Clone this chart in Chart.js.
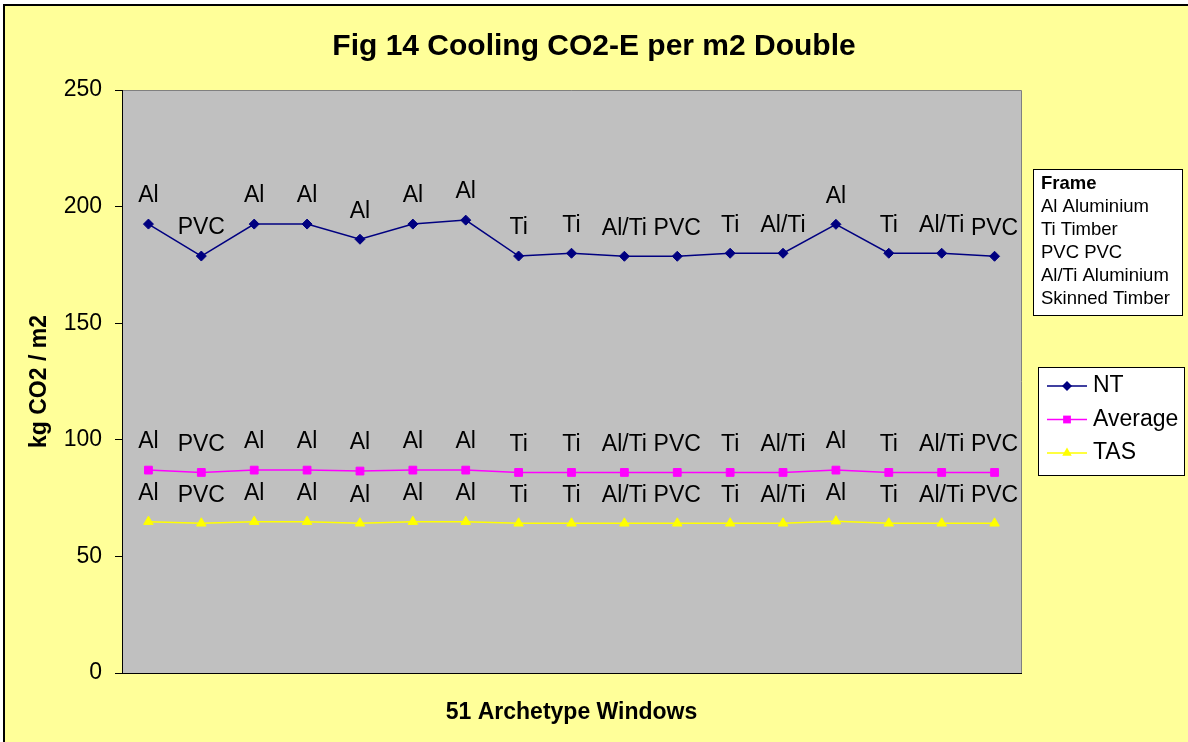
<!DOCTYPE html>
<html>
<head>
<meta charset="utf-8">
<script src="https://cdn.jsdelivr.net/npm/chart.js@4/dist/chart.umd.min.js"></script>
<style>
  html, body { margin: 0; padding: 0; background: #fff; }
  #wrap { width: 1188px; height: 742px; position: relative; }
</style>
</head>
<body>
<div id="wrap"><canvas id="c"></canvas></div>
<script>
// frame type per archetype window (label above every point)
const frames = ['Al', 'PVC', 'Al', 'Al', 'Al', 'Al', 'Al', 'Ti', 'Ti', 'Al/Ti', 'PVC', 'Ti', 'Al/Ti', 'Al', 'Ti', 'Al/Ti', 'PVC'];
const ntVals = [192.5, 178.8, 192.5, 192.5, 186, 192.5, 194.2, 178.8, 180, 178.7, 178.7, 180, 180, 192.4, 180, 180, 178.7];
const avgVals = [87, 86, 87, 87, 86.6, 87, 87, 86, 86, 86, 86, 86, 86, 87, 86, 86, 86];
const tasVals = [64.9, 64.2, 64.9, 64.9, 64.2, 64.9, 64.9, 64.2, 64.2, 64.2, 64.2, 64.2, 64.2, 65.1, 64.2, 64.2, 64.2];
const yTicks = [0, 50, 100, 150, 200, 250];
const frameKey = ['Al Aluminium', 'Ti Timber', 'PVC PVC', 'Al/Ti Aluminium', 'Skinned Timber'];

const FONT = "'Liberation Sans', Arial, sans-serif";
const series = [
  { label: 'NT', data: ntVals, color: '#000080', style: 'rectRot', r: 5 },
  { label: 'Average', data: avgVals, color: '#FF00FF', style: 'rect', r: 5.5 },
  { label: 'TAS', data: tasVals, color: '#FFFF00', style: 'triangle', r: 5.5 }
];

function marker(ctx, style, x, y, r, color) {
  ctx.save();
  ctx.fillStyle = color;
  ctx.beginPath();
  if (style === 'rectRot') {
    ctx.moveTo(x, y - r); ctx.lineTo(x + r, y); ctx.lineTo(x, y + r); ctx.lineTo(x - r, y);
  } else if (style === 'rect') {
    const s = r * Math.SQRT1_2;
    ctx.rect(x - s, y - s, 2 * s, 2 * s);
  } else {
    ctx.moveTo(x, y - r); ctx.lineTo(x + r * 0.866, y + r / 2); ctx.lineTo(x - r * 0.866, y + r / 2);
  }
  ctx.closePath();
  ctx.fill();
  ctx.restore();
}

const backdrop = {
  id: 'backdrop',
  beforeDraw(chart) {
    const { ctx, chartArea: a, width, height } = chart;
    ctx.save();
    ctx.fillStyle = '#fff';
    ctx.fillRect(0, 0, width, height);
    ctx.fillStyle = '#FFFF99';
    ctx.fillRect(4, 5, width, height);
    ctx.strokeStyle = '#000';
    ctx.lineWidth = 2;
    ctx.beginPath();
    ctx.moveTo(4, height); ctx.lineTo(4, 5); ctx.lineTo(width, 5);
    ctx.stroke();
    ctx.fillStyle = '#C0C0C0';
    ctx.fillRect(a.left, a.top, a.right - a.left, a.bottom - a.top);
    ctx.strokeStyle = '#808080';
    ctx.lineWidth = 1;
    ctx.beginPath();
    ctx.moveTo(a.left, a.top + 0.5); ctx.lineTo(a.right + 0.5, a.top + 0.5); ctx.lineTo(a.right + 0.5, a.bottom);
    ctx.stroke();
    ctx.restore();
  }
};

const pointLabels = {
  id: 'pointLabels',
  afterDatasetsDraw(chart) {
    const ctx = chart.ctx;
    ctx.save();
    ctx.font = '23px ' + FONT;
    ctx.fillStyle = '#000';
    ctx.textAlign = 'center';
    ctx.textBaseline = 'middle';
    chart.data.datasets.forEach((ds, di) => {
      chart.getDatasetMeta(di).data.forEach((p, i) => {
        ctx.fillText(frames[i], p.x, p.y - 28);
      });
    });
    ctx.restore();
  }
};

const sideBoxes = {
  id: 'sideBoxes',
  afterDraw(chart) {
    const ctx = chart.ctx;
    ctx.save();
    // frame key
    ctx.fillStyle = '#fff';
    ctx.fillRect(1033, 169, 149, 146);
    ctx.strokeStyle = '#000';
    ctx.lineWidth = 1;
    ctx.strokeRect(1033.5, 169.5, 149, 146);
    ctx.fillStyle = '#000';
    ctx.textAlign = 'left';
    ctx.textBaseline = 'middle';
    ctx.font = 'bold 18.5px ' + FONT;
    ctx.fillText('Frame', 1041, 184);
    ctx.font = '18.5px ' + FONT;
    frameKey.forEach((t, i) => ctx.fillText(t, 1041, 207 + i * 23));
    // series legend
    ctx.fillStyle = '#fff';
    ctx.fillRect(1038, 367, 146, 108);
    ctx.strokeRect(1038.5, 367.5, 146, 108);
    ctx.font = '23px ' + FONT;
    series.forEach((s, i) => {
      const y = 386 + i * 33.5;
      ctx.strokeStyle = s.color;
      ctx.lineWidth = 1.5;
      ctx.beginPath();
      ctx.moveTo(1047, y); ctx.lineTo(1087, y);
      ctx.stroke();
      marker(ctx, s.style, 1067, y, s.r, s.color);
      ctx.fillStyle = '#000';
      ctx.fillText(s.label, 1093, y);
    });
    ctx.restore();
  }
};

new Chart(document.getElementById('c'), {
  type: 'line',
  data: {
    labels: frames,
    datasets: series.map(s => ({
      label: s.label,
      data: s.data,
      borderColor: s.color,
      backgroundColor: s.color,
      borderWidth: 1.5,
      pointStyle: s.style,
      pointRadius: s.r,
      pointHoverRadius: s.r,
      pointBorderWidth: 1,
      tension: 0,
      fill: false
    }))
  },
  options: {
    responsive: true,
    maintainAspectRatio: false,
    animation: false,
    layout: { padding: 0 },
    plugins: {
      legend: { display: false },
      tooltip: { enabled: false },
      title: {
        display: true,
        text: 'Fig 14 Cooling CO2-E per m2 Double',
        color: '#000',
        font: { family: FONT, size: 30, weight: 'bold', lineHeight: 1.2 },
        padding: { top: 29, bottom: 25 }
      }
    },
    scales: {
      x: {
        type: 'category',
        offset: true,
        ticks: { display: false },
        grid: { display: true, drawOnChartArea: false, drawTicks: false },
        border: { display: true, color: '#000', width: 1 },
        title: {
          display: true,
          text: '51 Archetype Windows',
          color: '#000',
          font: { family: FONT, size: 23, weight: 'bold', lineHeight: 1.2 },
          padding: { top: 0, bottom: 16 }
        },
        afterFit(scale) { scale.height = 69; }
      },
      y: {
        min: 0,
        max: 250,
        afterBuildTicks(scale) { scale.ticks = yTicks.map(v => ({ value: v })); },
        ticks: { color: '#000', padding: 13, font: { family: FONT, size: 23 } },
        grid: { display: true, drawOnChartArea: false, drawTicks: true, tickLength: 7, color: '#000' },
        border: { display: true, color: '#000', width: 1 },
        title: {
          display: true,
          text: 'kg CO2 / m2',
          color: '#000',
          font: { family: FONT, size: 23, weight: 'bold', lineHeight: 1.2 },
          padding: { top: 26, bottom: 0 }
        },
        afterFit(scale) { scale.width = 122; }
      },
      side: {
        position: 'right',
        display: true,
        ticks: { display: false },
        grid: { display: false },
        border: { display: false },
        afterFit(scale) { scale.width = 167; }
      }
    }
  },
  plugins: [backdrop, pointLabels, sideBoxes]
});
</script>
</body>
</html>
